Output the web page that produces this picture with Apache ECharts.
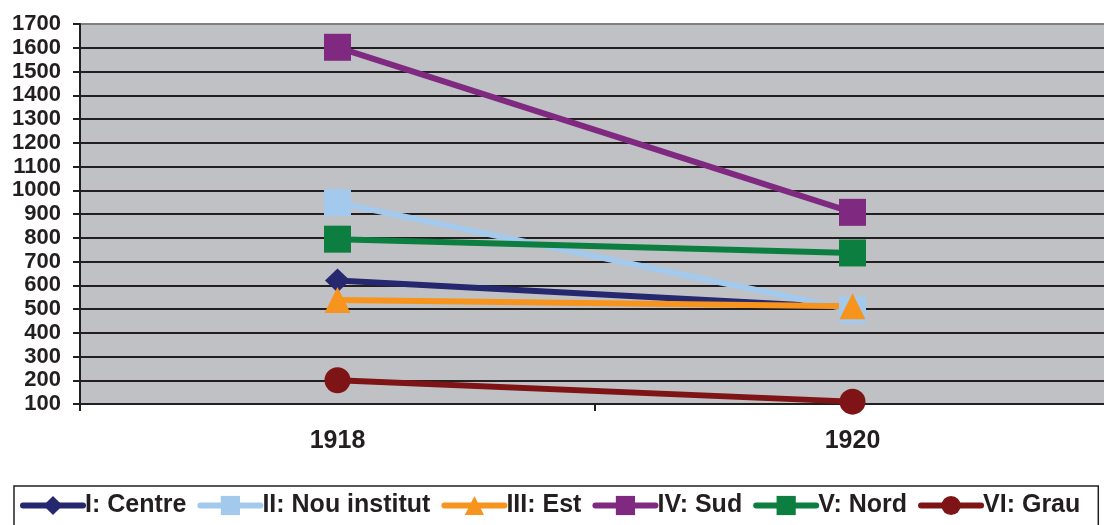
<!DOCTYPE html>
<html>
<head>
    <meta charset="utf-8">
    <title>ECharts</title>
    <script src="https://cdn.jsdelivr.net/npm/echarts@6/dist/echarts.min.js"></script>
    <style>
        html, body { margin: 0; padding: 0; background: #fff; }
    </style>
</head>
<body>
    <div id="main" style="width: 1104px;height:525px;"></div>
    <script type="text/javascript">
        var myChart = echarts.init(document.getElementById('main'));

        // dades
        var years = ['1918', '1920'];
        var seriesNames = ['I: Centre', 'II: Nou institut', 'III: Est', 'IV: Sud', 'V: Nord', 'VI: Grau'];
        var centre = [620, 505];
        var nouInstitut = [948, 496];
        var est = [538, 512];
        var sud = [1602, 907];
        var nord = [794, 736];
        var grau = [200, 110];

        var colors = ['#25276f', '#a3c9ec', '#f7941d', '#7f2a80', '#0c7f40', '#7f1416'];
        var symbols = ['diamond', 'rect', 'triangle', 'rect', 'rect', 'circle'];
        var sizes = [[25, 24], 27, [26, 26], 27, 27, 26];
        var values = [centre, nouInstitut, est, sud, nord, grau];

        var txt = '#231f20';
        var font = '"Liberation Sans", Arial, sans-serif';

        // la linia de dalt (1700) es grisa
        var gridColors = [];
        for (var i = 0; i < 16; i++) gridColors.push(txt);
        gridColors.push('#7f7f7f');

        var series = [];
        for (var k = 0; k < values.length; k++) {
            series.push({
                name: seriesNames[k],
                type: 'line',
                data: values[k],
                symbol: symbols[k],
                symbolSize: sizes[k],
                showAllSymbol: true,
                itemStyle: { color: colors[k], opacity: 1 },
                lineStyle: { color: colors[k], width: 6 },
                emphasis: { disabled: true },
                animation: false
            });
        }

        var option = {
            animation: false,
            color: colors,
            grid: {
                left: 80,
                top: 24,
                width: 1030,
                height: 380,
                outerBoundsMode: 'none',
                show: true,
                backgroundColor: '#c0c1c4',
                borderWidth: 0
            },
            xAxis: {
                type: 'category',
                data: years,
                boundaryGap: true,
                axisLine: { lineStyle: { color: txt, width: 2 } },
                axisTick: { show: true, length: 7, lineStyle: { color: txt, width: 2 } },
                axisLabel: {
                    margin: 25,
                    color: txt,
                    fontSize: 25,
                    fontWeight: 'bold',
                    fontFamily: font
                }
            },
            yAxis: {
                type: 'value',
                min: 100,
                max: 1700,
                interval: 100,
                axisLine: { show: true, lineStyle: { color: txt, width: 2 } },
                axisTick: { show: true, length: 7, lineStyle: { color: txt, width: 2 } },
                splitLine: { show: true, lineStyle: { color: gridColors, width: 2 } },
                axisLabel: {
                    margin: 19,
                    color: txt,
                    fontSize: 22,
                    fontWeight: 'bold',
                    fontFamily: font,
                    formatter: function (v) { return String(v); }
                }
            },
            legend: {
                data: seriesNames,
                left: 14,
                top: 486,
                padding: [7, 18, 8, 6],
                borderColor: txt,
                borderWidth: 1.5,
                borderRadius: 0,
                itemWidth: 60,
                itemHeight: 24,
                itemGap: 11,
                lineStyle: { width: 6, cap: 'round' },
                textStyle: {
                    color: txt,
                    fontSize: 25,
                    fontWeight: 'bold',
                    fontFamily: font,
                    padding: [0, 0, 0, -3]
                }
            },
            series: series
        };

        myChart.setOption(option);
    </script>
</body>
</html>
